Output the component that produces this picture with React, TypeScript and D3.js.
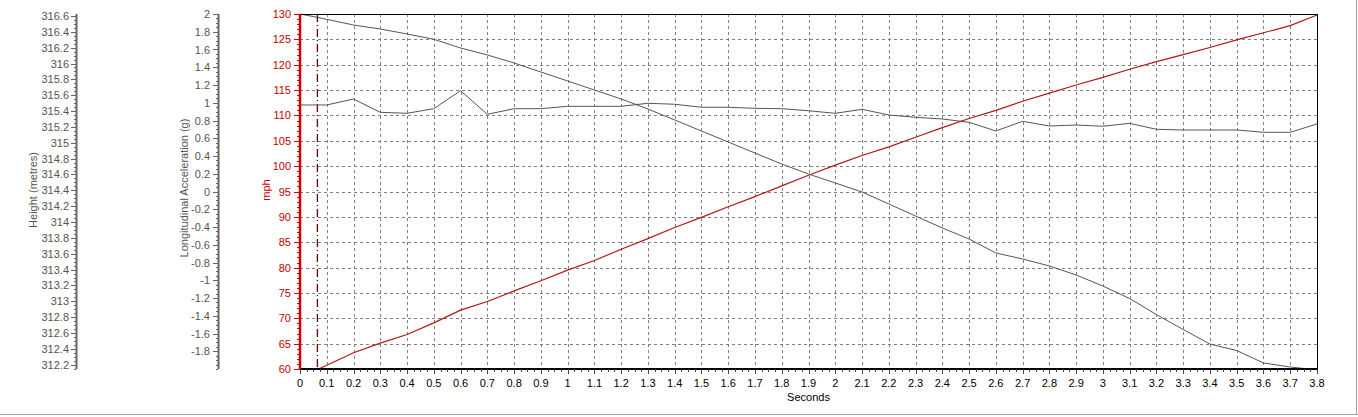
import React from 'react';
import * as d3 from 'd3';

// ---- data ----
const speedTime = [0.07, 0.2, 0.3, 0.4, 0.5, 0.6, 0.7, 0.8, 0.9, 1.0, 1.1, 1.2, 1.3, 1.4, 1.5, 1.6, 1.7, 1.8, 1.9, 2.0, 2.1, 2.2, 2.3, 2.4, 2.5, 2.6, 2.7, 2.8, 2.9, 3.0, 3.1, 3.2, 3.3, 3.4, 3.5, 3.6, 3.7, 3.8];
const speedMph = [60, 63.2, 65.1, 66.8, 69.1, 71.6, 73.3, 75.4, 77.4, 79.5, 81.4, 83.6, 85.7, 87.9, 89.9, 92.0, 94.0, 96.1, 98.2, 100.2, 102.1, 103.8, 105.7, 107.6, 109.4, 111.0, 112.8, 114.4, 116.0, 117.5, 119.1, 120.6, 122.0, 123.4, 124.9, 126.3, 127.7, 129.8];

const heightTime = [0, 0.065, 0.2, 0.3, 0.4, 0.5, 0.6, 0.7, 0.8, 0.9, 1.0, 1.1, 1.2, 1.3, 1.4, 1.5, 1.6, 1.7, 1.8, 1.9, 2.0, 2.1, 2.2, 2.3, 2.4, 2.5, 2.6, 2.7, 2.8, 2.9, 3.0, 3.1, 3.2, 3.3, 3.4, 3.5, 3.6, 3.7, 3.77];
const heightM = [316.625, 316.583, 316.486, 316.436, 316.373, 316.306, 316.196, 316.108, 316.007, 315.893, 315.780, 315.666, 315.553, 315.426, 315.288, 315.149, 315.010, 314.871, 314.732, 314.606, 314.493, 314.379, 314.228, 314.076, 313.925, 313.786, 313.610, 313.534, 313.446, 313.332, 313.193, 313.035, 312.833, 312.644, 312.461, 312.379, 312.222, 312.171, 312.146];

const accelTime = [0, 0.1, 0.2, 0.3, 0.4, 0.5, 0.6, 0.7, 0.8, 0.9, 1.0, 1.1, 1.2, 1.3, 1.4, 1.5, 1.6, 1.7, 1.8, 1.9, 2.0, 2.1, 2.2, 2.3, 2.4, 2.5, 2.6, 2.7, 2.8, 2.9, 3.0, 3.1, 3.2, 3.3, 3.4, 3.5, 3.6, 3.7, 3.8];
const accelG = [0.975, 0.975, 1.042, 0.892, 0.881, 0.933, 1.136, 0.870, 0.933, 0.933, 0.960, 0.960, 0.960, 0.994, 0.983, 0.949, 0.949, 0.937, 0.933, 0.910, 0.881, 0.926, 0.862, 0.836, 0.817, 0.780, 0.682, 0.791, 0.738, 0.749, 0.735, 0.768, 0.701, 0.693, 0.693, 0.693, 0.667, 0.667, 0.761];

const cursorTime = 0.065;

const secondsDomain = [0, 3.8];
const mphDomain = [60, 130];
const accelDomain = [-2, 2];
const heightDomain = [312.146, 316.625];

const accelTickLabels = [2, 1.8, 1.6, 1.4, 1.2, 1, 0.8, 0.6, 0.4, 0.2, 0, -0.2, -0.4, -0.6, -0.8, -1, -1.2, -1.4, -1.6, -1.8];
const heightTickLabels = [316.6, 316.4, 316.2, 316, 315.8, 315.6, 315.4, 315.2, 315, 314.8, 314.6, 314.4, 314.2, 314, 313.8, 313.6, 313.4, 313.2, 313, 312.8, 312.6, 312.4, 312.2];

// ---- layout ----
const W = 1358, H = 417;
const L = 300, R = 1317, T = 14, B = 369;
const FONT = '"Liberation Sans", Arial, sans-serif';
const GRAY_TXT = '#555';
const RED_TXT = '#c00000';

const fmt = (v: number) => String(+v.toFixed(2));

export default function App() {
  const x = d3.scaleLinear().domain(secondsDomain).range([L, R]);
  const yMph = d3.scaleLinear().domain(mphDomain).range([B, T]);
  const yAcc = d3.scaleLinear().domain(accelDomain).range([B, T]);
  const yH = d3.scaleLinear().domain(heightDomain).range([B, T]);

  const xMajor = d3.range(0, 39).map(i => i / 10);
  const xMinor = d3.range(0, 38 * 4 + 1).map(i => i / 40);
  const mphMajor = d3.range(60, 131, 5);
  const mphMinor = d3.range(60, 131, 1);
  const accMinor = d3.range(-40, 41).map(i => i / 20);
  const hMinor = d3.range(0, 200).map(i => 312.15 + i * 0.05).filter(v => v <= heightDomain[1] && v >= heightDomain[0]);

  const speedLine = d3.line<number>().x((_, i) => x(speedTime[i])).y(d => yMph(d));
  const heightLine = d3.line<number>().x((_, i) => x(heightTime[i])).y(d => yH(d));
  const accelLine = d3.line<number>().x((_, i) => x(accelTime[i])).y(d => yAcc(d));

  const hAxisX = 76, aAxisX = 218;

  return (
    <svg width={W} height={H} style={{ position: 'absolute', left: 0, top: 0, background: '#fff' }} fontFamily={FONT} fontSize={11}>
      <rect x={0} y={0} width={W} height={H} fill="#fff" />
      {/* grid */}
      {xMajor.filter(v => v > 0 && v < 3.8).map(v => (
        <line key={'gx' + v} x1={Math.round(x(v)) + 0.5} x2={Math.round(x(v)) + 0.5} y1={T} y2={B} stroke="#808080" strokeDasharray="3,3" />
      ))}
      {mphMajor.filter(v => v > 60 && v < 130).map(v => (
        <line key={'gy' + v} x1={L} x2={R} y1={Math.round(yMph(v)) + 0.5} y2={Math.round(yMph(v)) + 0.5} stroke="#808080" strokeDasharray="3,3" />
      ))}

      {/* cursor */}
      <line x1={x(cursorTime)} x2={x(cursorTime)} y1={T} y2={B} stroke="#6e0000" strokeWidth={1.3} strokeDasharray="8,3,1,3" />

      {/* series */}
      <path d={heightLine(heightM) || ''} fill="none" stroke="#555" strokeWidth={1} />
      <path d={accelLine(accelG) || ''} fill="none" stroke="#555" strokeWidth={1} />
      <path d={speedLine(speedMph) || ''} fill="none" stroke="#b01818" strokeWidth={1.2} />

      {/* frame */}
      <line x1={L} x2={R} y1={T + 0.5} y2={T + 0.5} stroke="#000" />
      <line x1={R + 0.5} x2={R + 0.5} y1={T} y2={B} stroke="#000" />
      <line x1={L} x2={R + 1} y1={B} y2={B} stroke="#000" strokeWidth={2} />

      {/* bottom axis */}
      {xMinor.map(v => (
        <line key={'xm' + v} x1={Math.round(x(v)) + 0.5} x2={Math.round(x(v)) + 0.5} y1={B} y2={B + 3} stroke="#444" />
      ))}
      {xMajor.map(v => (
        <g key={'xt' + v}>
          <line x1={Math.round(x(v)) + 0.5} x2={Math.round(x(v)) + 0.5} y1={B} y2={B + 5} stroke="#444" />
          <text x={x(v)} y={387} textAnchor="middle" fill="#000">{fmt(v)}</text>
        </g>
      ))}
      <text x={(L + R) / 2} y={401} textAnchor="middle" fill="#000">Seconds</text>

      {/* mph axis */}
      {mphMinor.map(v => (
        <line key={'mm' + v} x1={L - 3} x2={L} y1={Math.round(yMph(v)) + 0.5} y2={Math.round(yMph(v)) + 0.5} stroke="#d00000" />
      ))}
      {mphMajor.map(v => (
        <g key={'mt' + v}>
          <line x1={L - 6} x2={L} y1={Math.round(yMph(v)) + 0.5} y2={Math.round(yMph(v)) + 0.5} stroke="#d00000" />
          <text x={291} y={yMph(v) + 4} textAnchor="end" fill={RED_TXT}>{v}</text>
        </g>
      ))}
      <line x1={L} x2={L} y1={T} y2={B} stroke="#d00000" strokeWidth={2.5} />
      <text transform={`translate(270,190) rotate(-90)`} textAnchor="middle" fill={RED_TXT}>mph</text>

      {/* accel axis */}
      {accMinor.map(v => (
        <line key={'am' + v} x1={aAxisX - 2} x2={aAxisX} y1={Math.round(yAcc(v)) + 0.5} y2={Math.round(yAcc(v)) + 0.5} stroke="#666" />
      ))}
      {accelTickLabels.map(v => (
        <g key={'at' + v}>
          <line x1={aAxisX - 5} x2={aAxisX} y1={Math.round(yAcc(v)) + 0.5} y2={Math.round(yAcc(v)) + 0.5} stroke="#666" />
          <text x={210} y={yAcc(v) + 4} textAnchor="end" fill={GRAY_TXT}>{fmt(v)}</text>
        </g>
      ))}
      <line x1={aAxisX + 0.5} x2={aAxisX + 0.5} y1={T} y2={B} stroke="#666" strokeWidth={2} />
      <text transform={`translate(188,188) rotate(-90)`} textAnchor="middle" fill={GRAY_TXT}>Longitudinal Acceleration (g)</text>

      {/* height axis */}
      {hMinor.map(v => (
        <line key={'hm' + v} x1={hAxisX - 2} x2={hAxisX} y1={Math.round(yH(v)) + 0.5} y2={Math.round(yH(v)) + 0.5} stroke="#666" />
      ))}
      {heightTickLabels.map(v => (
        <g key={'ht' + v}>
          <line x1={hAxisX - 5} x2={hAxisX} y1={Math.round(yH(v)) + 0.5} y2={Math.round(yH(v)) + 0.5} stroke="#666" />
          <text x={69} y={yH(v) + 4} textAnchor="end" fill={GRAY_TXT}>{fmt(v)}</text>
        </g>
      ))}
      <line x1={hAxisX + 0.5} x2={hAxisX + 0.5} y1={T} y2={B} stroke="#666" strokeWidth={2} />
      <text transform={`translate(37,190) rotate(-90)`} textAnchor="middle" fill={GRAY_TXT}>Height (metres)</text>

      {/* window frame */}
      <line x1={0} x2={W} y1={414.5} y2={414.5} stroke="#a0a0a0" />
      <line x1={1356.5} x2={1356.5} y1={0} y2={415} stroke="#a0a0a0" />
    </svg>
  );
}
